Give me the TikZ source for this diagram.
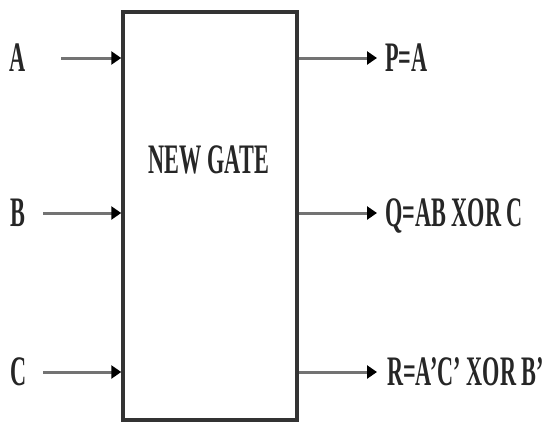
\documentclass[tikz,border=0pt]{standalone}
\usepackage{fontspec}
\setmainfont{Liberation Serif}
\usetikzlibrary{arrows.meta}
\newcommand{\sq}[1]{\scalebox{0.53}[1]{#1}}
\begin{document}
\begin{tikzpicture}[x=1pt,y=-1pt,
  lbl/.style={inner sep=0pt, text height=27.8pt, text depth=0pt, font=\fontsize{42}{42}\selectfont\bfseries, text=black!85},
  wire/.style={draw=black!55, line width=3pt, -{Triangle[length=10pt,width=13pt,black]}}]
\useasboundingbox (0,0) rectangle (543,423);
\node[draw=black!80, line width=3.5pt, minimum width=174pt, minimum height=408pt, inner sep=0pt] (gate) at (210,216) {};
\node[lbl] (title) at (209,160) {\sq{NEW GATE}};
% inputs
\node[lbl] (A) at (18,58) {\sq{A}};
\node[lbl] (B) at (18,213) {\sq{B}};
\node[lbl] (C) at (19,372) {\sq{C}};
\coordinate (a0) at (61,58);
\coordinate (b0) at (43,213);
\coordinate (c0) at (43,372);
\draw[wire] (a0) -- (gate.west |- a0);
\draw[wire] (b0) -- (gate.west |- b0);
\draw[wire] (c0) -- (gate.west |- c0);
% outputs
\node[lbl, anchor=west] (P) at (385,58) {\sq{P=A}};
\node[lbl, anchor=west] (Q) at (385,213) {\sq{Q=AB XOR C}};
\node[lbl, anchor=west] (R) at (387,372) {\sq{R=A'C' XOR B'}};
\coordinate (p1) at (377,58);
\coordinate (q1) at (377,213);
\coordinate (r1) at (377,372);
\draw[wire] (gate.east |- p1) -- (p1);
\draw[wire] (gate.east |- q1) -- (q1);
\draw[wire] (gate.east |- r1) -- (r1);
\end{tikzpicture}
\end{document}
